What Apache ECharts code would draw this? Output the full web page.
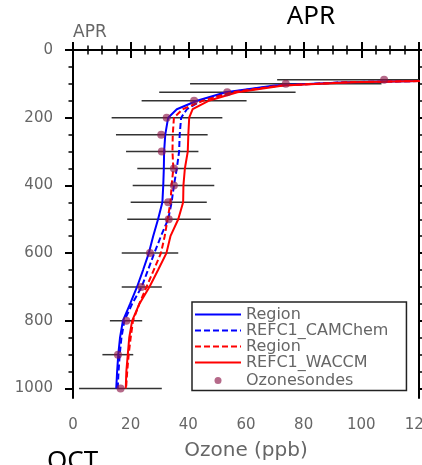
<!DOCTYPE html>
<html>
<head>
<meta charset="utf-8">
<script src="https://cdn.jsdelivr.net/npm/echarts@6/dist/echarts.min.js"></script>
<style>
html,body{margin:0;padding:0;background:#fff;}
#chart{width:422px;height:465px;}
</style>
</head>
<body>
<div id="chart"></div>
<script>
// ---- data ----
var modelLevels = [85, 95, 105, 125, 150, 175, 200, 250, 300, 350, 400, 450, 500, 550, 600, 650, 700, 750, 800, 850, 900, 950, 1000];
var camRegion   = [170, 95, 70, 53, 43, 36, 33, 32, 31.6, 31.5, 31.3, 31, 29.5, 27.8, 26.3, 24.3, 22.2, 19.8, 17.3, 16.3, 15.7, 15.3, 15.0];
var camRefc1    = [170, 95, 71, 54, 44.5, 39.5, 37.5, 37, 36.8, 36, 35, 34.2, 33, 30.5, 28.2, 26, 23.8, 20.5, 17.8, 16.8, 16.2, 15.8, 15.5];
var waccmRegion = [170, 96, 72, 55, 45, 38, 35, 34.6, 34.5, 34.8, 34.2, 33.8, 32.8, 31.8, 30.5, 28, 25.5, 23, 20.8, 20, 19.3, 18.8, 18.4];
var waccmRefc1  = [170, 97, 73, 57, 47, 41.5, 40.3, 40, 39.8, 38.8, 38.3, 38.2, 36.5, 33.8, 32.4, 29.5, 26.5, 23, 20.5, 19.5, 19, 18.5, 18.3];

var sondeLevels = [88, 100, 125, 150, 200, 250, 300, 350, 400, 450, 500, 600, 700, 800, 900, 1000];
var sondeMean   = [107.9, 73.8, 53.5, 42, 32.5, 30.6, 30.8, 35, 35, 33, 33.2, 26.7, 23.7, 18.5, 15.6, 16.5];
var sondeLow    = [70.8, 40.6, 29.9, 23.8, 13.4, 14.9, 18.4, 22.3, 20.7, 20, 18.8, 16.9, 16.9, 12.8, 10.2, 2.1];
var sondeHigh   = [145, 107, 77.2, 60.2, 51.8, 46.7, 43.5, 47.9, 49.0, 46.4, 47.8, 36.5, 30.8, 24.0, 20.9, 30.8];

var yMajorTicks = [0, 200, 400, 600, 800, 1000];
var yMinorTicks = [50, 100, 150, 250, 300, 350, 450, 500, 550, 650, 700, 750, 850, 900, 950];

var seriesNames = ['RegionCAM', 'REFC1_CAMChem', 'RegionWACCM', 'REFC1_WACCM', 'Ozonesondes'];
var legendLabels = ['Region', 'REFC1_CAMChem', 'Region', 'REFC1_WACCM', 'Ozonesondes'];

// ---- chart ----
var FONT = 'DejaVu Sans';
var LABEL_COLOR = '#666';
function pairs(vals, levels){ return vals.map(function(v,i){ return [v, levels[i]]; }); }
function plainNum(v){ return String(v); }

var chart = echarts.init(document.getElementById('chart'), null, {renderer:'canvas'});
var axisLine = {show:true, lineStyle:{color:'#000', width:2}};
var yBase = {type:'value', inverse:true, min:0, max:1028, splitLine:{show:false}};
var hideSym = {opacity:0};

var option = {
  animation:false,
  backgroundColor:'#fff',
  grid:{left:73, right:3, top:50, bottom:67, containLabel:false, outerBoundsMode:'none'},
  xAxis:[
    {type:'value', position:'bottom', min:0, max:120, interval:20,
     axisLine:axisLine, splitLine:{show:false},
     axisTick:{show:true, inside:false, length:8, lineStyle:{color:'#000', width:2}},
     minorTick:{show:true, splitNumber:4, length:4.5, lineStyle:{color:'#000', width:1.5}},
     axisLabel:{show:true, margin:20, fontFamily:FONT, fontSize:15, color:LABEL_COLOR, formatter:plainNum},
     name:'Ozone (ppb)', nameLocation:'middle', nameGap:43,
     nameTextStyle:{fontFamily:FONT, fontSize:20, color:LABEL_COLOR}},
    {type:'value', position:'top', min:0, max:120, interval:20,
     axisLine:axisLine, splitLine:{show:false},
     axisTick:{show:true, inside:false, length:8, lineStyle:{color:'#000', width:2}},
     minorTick:{show:true, splitNumber:4, length:4.5, lineStyle:{color:'#000', width:1.5}},
     axisLabel:{show:false}}
  ],
  yAxis:[
    Object.assign({}, yBase, {position:'left', axisLine:axisLine,
      axisTick:{show:true, inside:false, length:8, customValues:yMajorTicks, lineStyle:{color:'#000', width:2}},
      axisLabel:{show:true, customValues:yMajorTicks, margin:20, fontFamily:FONT, fontSize:15, color:LABEL_COLOR, formatter:plainNum}}),
    Object.assign({}, yBase, {position:'left', axisLine:{show:false},
      axisTick:{show:true, inside:false, length:4.5, customValues:yMinorTicks, lineStyle:{color:'#000', width:1.5}},
      axisLabel:{show:false}}),
    Object.assign({}, yBase, {position:'right', axisLine:axisLine,
      axisTick:{show:true, inside:false, length:8, customValues:yMajorTicks, lineStyle:{color:'#000', width:2}},
      axisLabel:{show:false}}),
    Object.assign({}, yBase, {position:'right', axisLine:{show:false},
      axisTick:{show:true, inside:false, length:4.5, customValues:yMinorTicks, lineStyle:{color:'#000', width:1.5}},
      axisLabel:{show:false}})
  ],
  legend:{
    orient:'vertical', left:192, top:302,
    data:[
      {name:seriesNames[0], itemStyle:hideSym}, {name:seriesNames[1], itemStyle:hideSym},
      {name:seriesNames[2], itemStyle:hideSym}, {name:seriesNames[3], itemStyle:hideSym},
      {name:seriesNames[4], icon:'circle', textStyle:{lineHeight:20}}
    ],
    formatter:function(n){ return legendLabels[seriesNames.indexOf(n)]; },
    itemWidth:46, itemHeight:7, itemGap:0,
    padding:[4.5, 18, 0, 2],
    backgroundColor:'#fff', borderColor:'#222', borderWidth:1.5, borderRadius:0,
    textStyle:{fontFamily:FONT, fontSize:16, color:LABEL_COLOR, lineHeight:15},
    selectedMode:false
  },
  graphic:[
    {type:'text', x:311, y:16.5, style:{text:'APR', font:'26px "Noto Sans"', fill:'#000', align:'center', verticalAlign:'middle'}},
    {type:'text', x:73, y:33, style:{text:'APR', font:'17px "DejaVu Sans"', fill:'#666', align:'left', verticalAlign:'middle'}},
    {type:'text', x:47, y:461.5, style:{text:'OCT', font:'26px "Noto Sans"', fill:'#000', align:'left', verticalAlign:'middle'}}
  ],
  series:[
    {type:'custom', name:'errbars', xAxisIndex:0, yAxisIndex:0, clip:true, z:1,
     data:sondeLevels.map(function(p,i){ return [sondeLow[i], sondeHigh[i], p]; }),
     encode:{x:[0,1], y:2},
     renderItem:function(params, api){
       var a = api.coord([api.value(0), api.value(2)]);
       var b = api.coord([api.value(1), api.value(2)]);
       return {type:'line', shape:{x1:a[0], y1:a[1], x2:b[0], y2:b[1]}, style:{stroke:'#333', lineWidth:1.5}};
     }},
    {type:'line', name:seriesNames[0], xAxisIndex:0, yAxisIndex:0, data:pairs(camRegion, modelLevels),
     symbol:'none', showSymbol:false, clip:true, z:3, color:'#0000ff', lineStyle:{color:'#0000ff', width:2, type:'solid'}},
    {type:'line', name:seriesNames[1], xAxisIndex:0, yAxisIndex:0, data:pairs(camRefc1, modelLevels),
     symbol:'none', showSymbol:false, clip:true, z:3, color:'#0000ff', lineStyle:{color:'#0000ff', width:2, type:[6,3]}},
    {type:'line', name:seriesNames[2], xAxisIndex:0, yAxisIndex:0, data:pairs(waccmRegion, modelLevels),
     symbol:'none', showSymbol:false, clip:true, z:3, color:'#ff0000', lineStyle:{color:'#ff0000', width:2, type:[6,3]}},
    {type:'line', name:seriesNames[3], xAxisIndex:0, yAxisIndex:0, data:pairs(waccmRefc1, modelLevels),
     symbol:'none', showSymbol:false, clip:true, z:3, color:'#ff0000', lineStyle:{color:'#ff0000', width:2, type:'solid'}},
    {type:'scatter', name:seriesNames[4], xAxisIndex:0, yAxisIndex:0, data:pairs(sondeMean, sondeLevels),
     symbol:'circle', symbolSize:8, z:4, itemStyle:{color:'rgba(140,20,70,0.8)'}}
  ]
};
chart.setOption(option);
</script>
</body>
</html>
